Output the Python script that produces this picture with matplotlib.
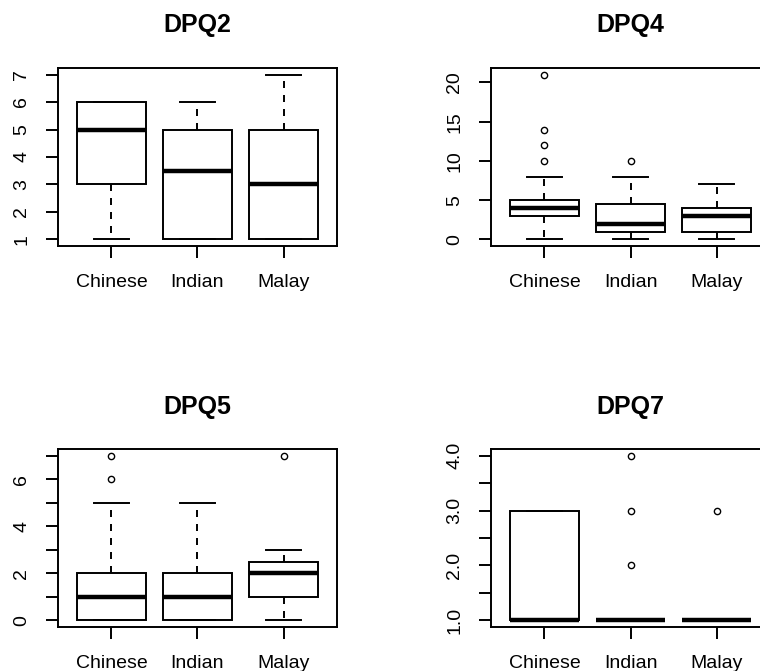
import matplotlib
matplotlib.use("Agg")
import matplotlib.pyplot as plt

plt.rcParams['font.family'] = ['Liberation Sans', 'DejaVu Sans']

groups = ["Chinese", "Indian", "Malay"]

# Each panel: title, whisker low, Q1, median, Q3, whisker high, outliers
titles = ["DPQ2", "DPQ4", "DPQ5", "DPQ7"]

dpq2_whislo = [1, 1, 1]
dpq2_q1 = [3, 1, 1]
dpq2_med = [5, 3.5, 3]
dpq2_q3 = [6, 5, 5]
dpq2_whishi = [6, 6, 7]
dpq2_fliers = [[], [], []]

dpq4_whislo = [0, 0, 0]
dpq4_q1 = [3, 1, 1]
dpq4_med = [4, 2, 3]
dpq4_q3 = [5, 4.5, 4]
dpq4_whishi = [8, 8, 7]
dpq4_fliers = [[10, 12, 14, 21], [10], []]

dpq5_whislo = [0, 0, 0]
dpq5_q1 = [0, 0, 1]
dpq5_med = [1, 1, 2]
dpq5_q3 = [2, 2, 2.5]
dpq5_whishi = [5, 5, 3]
dpq5_fliers = [[6, 7], [], [7]]

dpq7_whislo = [1, 1, 1]
dpq7_q1 = [1, 1, 1]
dpq7_med = [1, 1, 1]
dpq7_q3 = [3, 1, 1]
dpq7_whishi = [3, 1, 1]
dpq7_fliers = [[], [2, 3, 4], [3]]

dpq2_yticks = [1, 2, 3, 4, 5, 6, 7]
dpq2_ylabels = ["1", "2", "3", "4", "5", "6", "7"]
dpq4_yticks = [0, 5, 10, 15, 20]
dpq4_ylabels = ["0", "5", "10", "15", "20"]
dpq5_yticks = [0, 1, 2, 3, 4, 5, 6, 7]
dpq5_ylabels = ["0", "", "2", "", "4", "", "6", ""]
dpq7_yticks = [1.0, 1.5, 2.0, 2.5, 3.0, 3.5, 4.0]
dpq7_ylabels = ["1.0", "", "2.0", "", "3.0", "", "4.0"]

panels = [
    (dpq2_whislo, dpq2_q1, dpq2_med, dpq2_q3, dpq2_whishi, dpq2_fliers, dpq2_yticks, dpq2_ylabels),
    (dpq4_whislo, dpq4_q1, dpq4_med, dpq4_q3, dpq4_whishi, dpq4_fliers, dpq4_yticks, dpq4_ylabels),
    (dpq5_whislo, dpq5_q1, dpq5_med, dpq5_q3, dpq5_whishi, dpq5_fliers, dpq5_yticks, dpq5_ylabels),
    (dpq7_whislo, dpq7_q1, dpq7_med, dpq7_q3, dpq7_whishi, dpq7_fliers, dpq7_yticks, dpq7_ylabels),
]

W, H = 760, 671
fig = plt.figure(figsize=(W / 100, H / 100), dpi=100)
fig.patch.set_facecolor("white")

# axes rectangles in pixels: left, top, right, bottom
rects = [(58, 68, 337, 246), (491, 68, 770, 246), (58, 449, 337, 627), (491, 449, 770, 627)]
title_y = [25, 25, 407, 407]

box_lw = 1.4
for (title, data, rect, ty) in zip(titles, panels, rects, title_y):
    wl, q1, med, q3, wh, fl, yt, yl = data
    l, t, r, b = rect
    ax = fig.add_axes([l / W, 1 - b / H, (r - l) / W, (b - t) / H])
    stats = []
    for i in range(3):
        stats.append(dict(whislo=wl[i], q1=q1[i], med=med[i], q3=q3[i],
                          whishi=wh[i], fliers=fl[i], label=groups[i]))
    ax.bxp(stats, positions=[1, 2, 3], widths=0.8, showfliers=True,
           patch_artist=True, capwidths=0.4,
           boxprops=dict(facecolor="white", edgecolor="black", linewidth=box_lw),
           medianprops=dict(color="black", linewidth=3.2, solid_capstyle="butt"),
           whiskerprops=dict(color="black", linewidth=box_lw, linestyle=(0, (3.6, 3.6))),
           capprops=dict(color="black", linewidth=box_lw),
           flierprops=dict(marker="o", markerfacecolor="none", markeredgecolor="black",
                           markersize=4.5, markeredgewidth=1.0, linestyle="none"))
    allvals = wl + wh + [v for f in fl for v in f]
    lo, hi = min(allvals), max(allvals)
    pad = (hi - lo) * 0.04
    ax.set_ylim(lo - pad, hi + pad)
    ax.set_xlim(0.38, 3.62)
    ax.set_xticks([1, 2, 3])
    ax.set_xticklabels(groups)
    ax.set_yticks(yt)
    ax.set_yticklabels(yl)
    for lab in ax.get_yticklabels():
        lab.set_rotation(90)
        lab.set_va("center")
    ax.tick_params(axis="both", direction="out", length=8.3, width=box_lw,
                   labelsize=14, pad=11.5, colors="black")
    for s in ax.spines.values():
        s.set_linewidth(box_lw)
        s.set_color("black")
    fig.text((l + r) / 2 / W, 1 - ty / H, title, fontsize=18, fontweight="bold",
             ha="center", va="center")

fig.savefig("out.png", dpi=100, facecolor="white")
